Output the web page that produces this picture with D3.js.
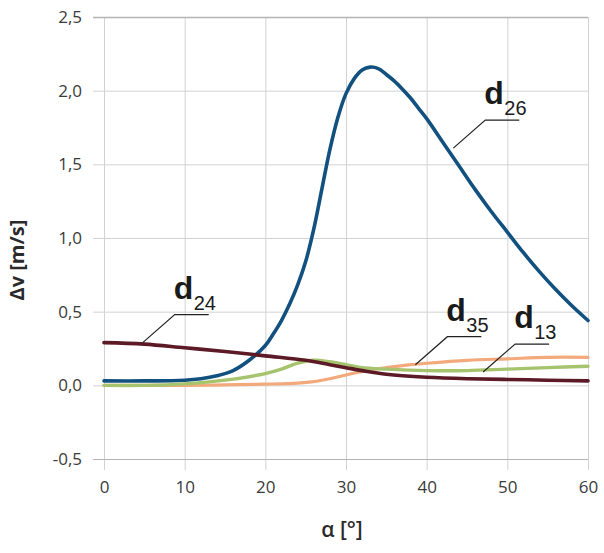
<!DOCTYPE html>
<html>
<head>
<meta charset="utf-8">
<script src="https://cdn.jsdelivr.net/npm/d3@7"></script>
<style>
  body { margin: 0; background: #fff; }
  .tick text { font-family: "Open Sans", sans-serif; font-size: 17px; fill: #3a3a3a; }
</style>
</head>
<body>
<svg id="chart"></svg>
<script>
// angle values (deg) for every sampled point
const angles26 = [0, 5, 10, 12, 14, 16, 18, 20, 21, 22, 23, 24, 25, 26, 27, 28, 29, 30, 31, 32, 33, 34, 35, 36, 37, 38, 39, 40, 42, 44, 46, 48, 50, 52, 54, 56, 58, 60];
const d26 = [0.03, 0.03, 0.035, 0.045, 0.065, 0.10, 0.17, 0.27, 0.35, 0.44, 0.55, 0.68, 0.84, 1.06, 1.33, 1.60, 1.82, 1.98, 2.08, 2.14, 2.16, 2.15, 2.11, 2.065, 2.01, 1.95, 1.88, 1.81, 1.65, 1.49, 1.33, 1.18, 1.04, 0.90, 0.77, 0.65, 0.54, 0.44];

const angles24 = [0, 5, 10, 15, 20, 25, 28, 30, 32, 35, 40, 45, 50, 55, 60];
const d24 = [0.29, 0.28, 0.255, 0.23, 0.20, 0.17, 0.14, 0.12, 0.10, 0.075, 0.055, 0.045, 0.04, 0.035, 0.03];

const angles13 = [0, 5, 10, 15, 20, 22, 24, 26, 28, 30, 32, 35, 40, 45, 50, 55, 60];
const d13 = [0.0, 0.0, 0.01, 0.035, 0.08, 0.11, 0.15, 0.17, 0.16, 0.14, 0.12, 0.11, 0.10, 0.10, 0.11, 0.12, 0.13];

const angles35 = [0, 10, 15, 20, 24, 26, 28, 30, 32, 35, 38, 40, 45, 50, 55, 60];
const d35 = [0.0, 0.0, 0.003, 0.008, 0.015, 0.025, 0.045, 0.07, 0.095, 0.12, 0.14, 0.15, 0.17, 0.18, 0.19, 0.19];

const xTicks = [0, 10, 20, 30, 40, 50, 60];
const yTicks = [-0.5, 0, 0.5, 1.0, 1.5, 2.0, 2.5];

// label name, subscript, anchor point on the curve (angle, value)
const labelNames = ["d", "d", "d", "d"];
const labelSubs = ["26", "24", "35", "13"];
const labelAnchors = [[43.3, 1.61], [4.8, 0.29], [38.6, 0.14], [47.0, 0.09]];

class LineChart {
  constructor(_config) {
    this.config = {
      parentElement: _config.parentElement,
      containerWidth: 604,
      containerHeight: 553,
      margin: { top: 17, right: 16, bottom: 94, left: 104 }
    }
    this.series = [
      { key: "d26", x: angles26, y: d26, color: "#12517f", width: 3.6 },
      { key: "d35", x: angles35, y: d35, color: "#f2aa7c", width: 3.2 },
      { key: "d13", x: angles13, y: d13, color: "#a5c46d", width: 3.4 },
      { key: "d24", x: angles24, y: d24, color: "#5b1a25", width: 3.6 }
    ];
    this.initVis();
  }

  initVis() {
    let vis = this;
    vis.svg = d3.select(vis.config.parentElement)
        .attr('width', vis.config.containerWidth)
        .attr('height', vis.config.containerHeight);

    vis.width = vis.config.containerWidth - vis.config.margin.left - vis.config.margin.right;
    vis.height = vis.config.containerHeight - vis.config.margin.top - vis.config.margin.bottom;

    vis.chart = vis.svg.append('g')
        .attr('transform', `translate(${vis.config.margin.left},${vis.config.margin.top})`);

    vis.xScale = d3.scaleLinear().domain([0, 60]).range([0, vis.width]);
    vis.yScale = d3.scaleLinear().domain([-0.5, 2.5]).range([vis.height, 0]);

    vis.xAxis = d3.axisBottom(vis.xScale)
        .tickValues(xTicks)
        .tickSize(-vis.height)
        .tickSizeOuter(0)
        .tickPadding(22)
        .tickFormat(d3.format('d'));
    vis.yAxis = d3.axisLeft(vis.yScale)
        .tickValues(yTicks)
        .tickSize(-vis.width)
        .tickSizeOuter(0)
        .tickPadding(22)
        .tickFormat(d => d3.format('.1f')(d).replace('.', ',').replace('−', '-'));

    vis.xAxisG = vis.chart.append('g')
        .attr('class', 'axis x-axis')
        .attr('transform', `translate(0,${vis.height})`);
    vis.yAxisG = vis.chart.append('g')
        .attr('class', 'axis y-axis');

    vis.renderVis();
  }

  renderVis() {
    let vis = this;

    vis.xAxisG.call(vis.xAxis)
        .call(g => g.select('.domain').remove());
    vis.xAxisG.selectAll('.tick line')
        .attr('y1', 11)
        .attr('y2', -vis.height)
        .attr('stroke', '#d2d2d2');

    vis.yAxisG.call(vis.yAxis)
        .call(g => g.select('.domain').remove());
    vis.yAxisG.selectAll('.tick line')
        .attr('x1', -11)
        .attr('x2', vis.width)
        .attr('stroke', d => (d === 2.5 || d === -0.5) ? '#b4b4b4' : '#d2d2d2')
        .attr('stroke-width', d => d === 2.5 ? 1.6 : 1);

    const line = d3.line()
        .x(d => vis.xScale(d[0]))
        .y(d => vis.yScale(d[1]))
        .curve(d3.curveCatmullRom.alpha(0.5));

    vis.chart.selectAll('.series')
        .data(vis.series)
        .join('path')
        .attr('class', 'series')
        .attr('fill', 'none')
        .attr('stroke', d => d.color)
        .attr('stroke-width', d => d.width)
        .attr('stroke-linecap', 'round')
        .attr('d', d => line(d.x.map((a, i) => [a, d.y[i]])));

    // curve labels with leader lines
    const labels = labelNames.map((n, i) => ({ name: n, sub: labelSubs[i], anchor: labelAnchors[i] }));
    const lab = vis.chart.selectAll('.curve-label')
        .data(labels)
        .join('g')
        .attr('class', 'curve-label')
        .attr('transform', d => `translate(${vis.xScale(d.anchor[0])},${vis.yScale(d.anchor[1])})`);

    lab.append('path')
        .attr('fill', 'none')
        .attr('stroke', '#222')
        .attr('stroke-width', 1.2)
        .attr('d', 'M0,0 L32,-28 L66,-28');

    lab.append('text')
        .attr('x', 31)
        .attr('y', -44)
        .attr('font-family', 'Liberation Sans, Arial, sans-serif')
        .attr('font-weight', 'bold')
        .attr('font-size', 32)
        .attr('fill', '#1a1a1a')
        .text(d => d.name);

    lab.append('text')
        .attr('x', 51)
        .attr('y', -33)
        .attr('font-family', 'Liberation Sans Narrow, Liberation Sans, Arial, sans-serif')
        .attr('font-size', 20)
        .attr('fill', '#1a1a1a')
        .text(d => d.sub);

    // axis titles
    vis.svg.append('text')
        .attr('transform', `translate(24,${vis.config.margin.top + vis.yScale(0.85)}) rotate(-90)`)
        .attr('text-anchor', 'middle')
        .attr('font-family', 'Open Sans, sans-serif')
        .attr('font-weight', 'bold')
        .attr('font-size', 20)
        .attr('fill', '#2a2a2a')
        .text('Δv  [m/s]');

    vis.svg.append('text')
        .attr('x', vis.config.margin.left + vis.xScale(29.5))
        .attr('y', 537)
        .attr('text-anchor', 'middle')
        .attr('font-family', 'Open Sans, sans-serif')
        .attr('font-weight', 600)
        .attr('font-size', 21)
        .attr('fill', '#2a2a2a')
        .text('α [°]');
  }
}

new LineChart({ parentElement: '#chart' });
</script>
</body>
</html>
